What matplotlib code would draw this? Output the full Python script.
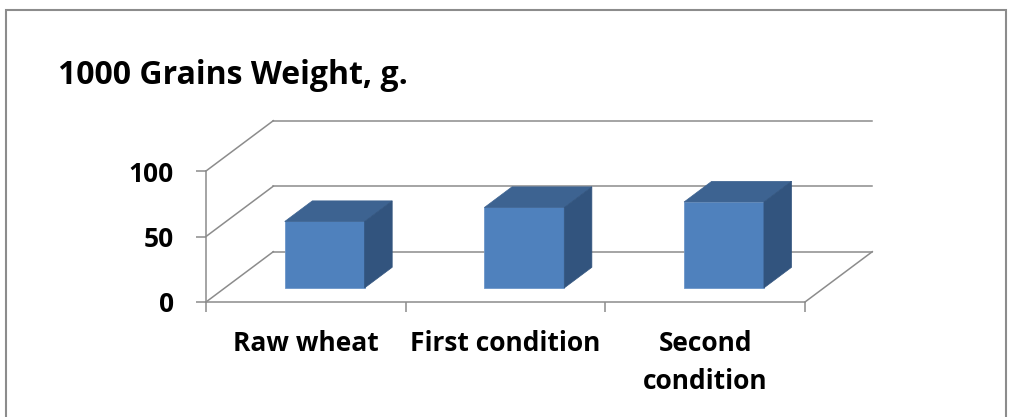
import matplotlib.pyplot as plt
from matplotlib.patches import Polygon, Rectangle

# chart data
categories = ['Raw wheat', 'First condition', 'Second\ncondition']
weights = [50.7, 61.4, 65.6]
y_ticks = [0, 50, 100]
title = '1000 Grains Weight, g.'

# oblique "3D" look: how far the back wall sits from the front plane
DEPTH_X = 0.337   # in category units
DEPTH_Y = 38.4    # in value units
BAR_W = 0.4
BAR_FRONT, BAR_BACK = 0.28, 0.69   # bar depth as fraction of the floor

GRID = '#8c8c8c'
FRONT = '#4f81bd'
TOP = '#3d6391'
SIDE = '#32547e'

plt.rcParams['font.family'] = ['Open Sans', 'DejaVu Sans']
plt.rcParams['font.weight'] = 'bold'


def proj(x, y, d):
    return (x + d * DEPTH_X, y + d * DEPTH_Y)


fig = plt.figure(figsize=(10.09, 4.17), dpi=100)
ax = fig.add_axes([206 / 1009, 115 / 417, 599 / 1009, 131 / 417])
ax.set_xlim(0, len(categories))
ax.set_ylim(0, y_ticks[-1])

n = len(categories)

# back wall gridlines and side wall diagonals
for v in y_ticks:
    (x0, y0), (x1, y1) = proj(0, v, 1), proj(n, v, 1)
    ax.plot([x0, x1], [y0, y1], color=GRID, lw=1.1, clip_on=False, zorder=1)
    (x0, y0), (x1, y1) = proj(0, v, 0), proj(0, v, 1)
    ax.plot([x0, x1], [y0, y1], color=GRID, lw=1.1, clip_on=False, zorder=1)
# right edge of the floor
(x0, y0), (x1, y1) = proj(n, 0, 0), proj(n, 0, 1)
ax.plot([x0, x1], [y0, y1], color=GRID, lw=1.1, clip_on=False, zorder=1)

# bars
for i, w in enumerate(weights):
    left = i + 0.5 - BAR_W / 2
    right = left + BAR_W
    fl, fb = proj(left, 0, BAR_FRONT)
    ax.add_patch(Rectangle((fl, fb), BAR_W, w, facecolor=FRONT,
                           edgecolor='#6c96c9', lw=0.6, clip_on=False, zorder=3))
    top = [proj(left, w, BAR_FRONT), proj(right, w, BAR_FRONT),
           proj(right, w, BAR_BACK), proj(left, w, BAR_BACK)]
    ax.add_patch(Polygon(top, closed=True, facecolor=TOP, edgecolor=TOP,
                         lw=0.5, clip_on=False, zorder=3))
    side = [proj(right, 0, BAR_FRONT), proj(right, 0, BAR_BACK),
            proj(right, w, BAR_BACK), proj(right, w, BAR_FRONT)]
    ax.add_patch(Polygon(side, closed=True, facecolor=SIDE, edgecolor=SIDE,
                         lw=0.5, clip_on=False, zorder=3))

# axes: front left edge and front floor edge
ax.patch.set_visible(False)
for s in ['top', 'right']:
    ax.spines[s].set_visible(False)
for s in ['left', 'bottom']:
    ax.spines[s].set_color(GRID)
    ax.spines[s].set_linewidth(1.1)

ax.set_yticks(y_ticks)
ax.set_yticklabels([str(v) for v in y_ticks], fontweight='bold')
ax.tick_params(axis='y', length=7.2, width=1.1, color=GRID, pad=16,
               labelsize=19)

ax.set_xticks(range(n + 1))
ax.set_xticklabels([''] * (n + 1))
ax.set_xticks([i + 0.5 for i in range(n)], minor=True)
ax.set_xticklabels(categories, minor=True, fontweight='bold')
ax.tick_params(axis='x', which='major', length=7.2, width=1.1, color=GRID)
ax.tick_params(axis='x', which='minor', length=0, pad=20, labelsize=19)
plt.setp(ax.get_xticklabels(minor=True), linespacing=1.55)

fig.text(58 / 1009, (417 - 84) / 417, title, ha='left', va='baseline',
         fontsize=23, fontweight='bold')

# chart border
fig.patches.append(Rectangle((6 / 1009, -0.1), 1000 / 1009, (417 - 10) / 417 + 0.1,
                             transform=fig.transFigure, fill=False,
                             edgecolor='#8c8c8c', lw=1.5))

fig.savefig('out.png', dpi=100)
